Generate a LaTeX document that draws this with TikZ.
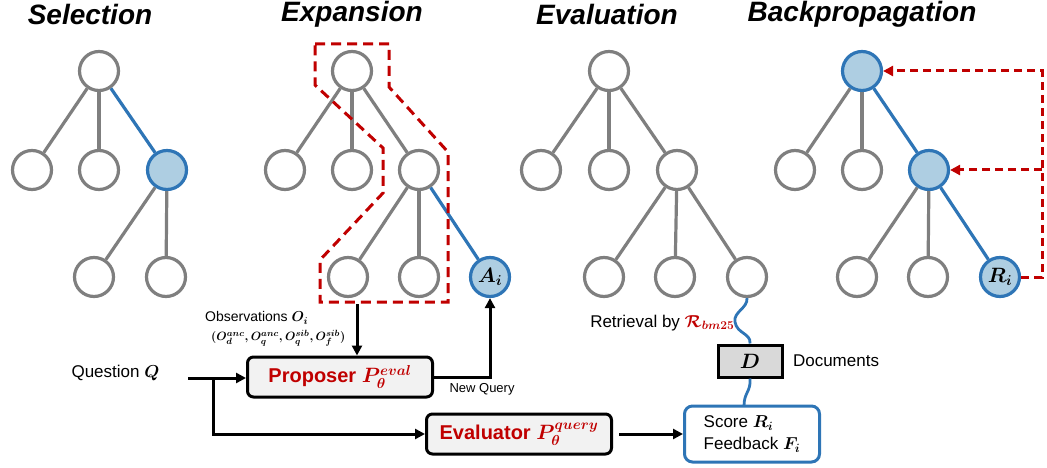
\documentclass[tikz,border=0pt]{standalone}
\usepackage{fontspec}
\setmainfont{Liberation Sans}
\usepackage{amsmath}
\usetikzlibrary{arrows.meta}
\usetikzlibrary{positioning}

\definecolor{treegray}{RGB}{127,127,127}
\definecolor{selblue}{RGB}{46,117,182}
\definecolor{sellight}{RGB}{174,206,226}
\definecolor{darkred}{RGB}{192,0,0}
\definecolor{boxgray}{RGB}{242,242,242}
\definecolor{docgray}{RGB}{217,217,217}

\newcommand{\bmath}[1]{\mbox{\boldmath$#1$}}

\tikzset{
  headline/.style={font=\fontsize{28}{33}\selectfont\bfseries\itshape},
  txt/.style={font=\fontsize{17}{20}\selectfont},
  tnode/.style={circle, draw=treegray, line width=3.2pt, fill=white, minimum size=39pt, inner sep=0pt},
  bnode/.style={tnode, draw=selblue, fill=sellight, font=\fontsize{21}{24}\selectfont},
  tedge/.style={treegray, line width=3.2pt},
  bedge/.style={selblue, line width=3.2pt},
  flow/.style={black, line width=3pt, -{Triangle[length=10pt,width=10pt]}},
  procbox/.style={draw=black, line width=3pt, rounded corners=6pt, fill=boxgray, text=darkred,
    minimum width=185pt, minimum height=40pt, font=\fontsize{20}{24}\selectfont\bfseries},
  obsline/.style={darkred, line width=3pt, dash pattern=on 10pt off 6pt},
  bkline/.style={darkred, line width=3pt, dash pattern=on 8pt off 5pt, -{Triangle[length=10pt,width=10pt]}}
}

\begin{document}
\begin{tikzpicture}[x=1pt,y=-1pt]
  \useasboundingbox (0,0) rectangle (1047,468);

  % titles
  \node[headline] (tsel) at (90,14) {Selection};
  \node[headline] (texp) at (352,14) {Expansion};
  \node[headline] (teva) at (607,14) {Evaluation};
  \node[headline] (tbck) at (862,14) {Backpropagation};

  % selection tree
  \node[tnode] (sroot) at (99,71) {};
  \node[tnode] (sc1) at (32,170) {};
  \node[tnode] (sc2) at (99,170) {};
  \node[bnode] (sc3) at (167,170) {};
  \node[tnode] (sg1) at (94,277) {};
  \node[tnode] (sg2) at (166,277) {};
  \draw[tedge] (sroot) -- (sc1);
  \draw[tedge] (sroot) -- (sc2);
  \draw[bedge] (sroot) -- (sc3);
  \draw[tedge] (sc3) -- (sg1);
  \draw[tedge] (sc3) -- (sg2);

  % expansion tree
  \node[tnode] (xroot) at (352,71) {};
  \node[tnode] (xc1) at (285,170) {};
  \node[tnode] (xc2) at (352,170) {};
  \node[tnode] (xc3) at (419,170) {};
  \node[tnode] (xg1) at (348,277) {};
  \node[tnode] (xg2) at (419,277) {};
  \node[bnode] (ai) at (490,277) {\bmath{A_i}};
  \draw[tedge] (xroot) -- (xc1);
  \draw[tedge] (xroot) -- (xc2);
  \draw[tedge] (xroot) -- (xc3);
  \draw[tedge] (xc3) -- (xg1);
  \draw[tedge] (xc3) -- (xg2);
  \draw[bedge] (xc3) -- (ai);
  \draw[obsline] (315,44) -- (389,44) -- (389,87) -- (448,152) -- (448,302) -- (320,302)
    -- (320,260) -- (383,193) -- (383,148) -- (315,85) -- cycle;

  % evaluation tree
  \node[tnode] (eroot) at (609,71) {};
  \node[tnode] (ec1) at (541,170) {};
  \node[tnode] (ec2) at (609,170) {};
  \node[tnode] (ec3) at (677,170) {};
  \node[tnode] (eg1) at (604,277) {};
  \node[tnode] (eg2) at (675,277) {};
  \node[tnode] (eg3) at (747,277) {};
  \draw[tedge] (eroot) -- (ec1);
  \draw[tedge] (eroot) -- (ec2);
  \draw[tedge] (eroot) -- (ec3);
  \draw[tedge] (ec3) -- (eg1);
  \draw[tedge] (ec3) -- (eg2);
  \draw[tedge] (ec3) -- (eg3);

  % backpropagation tree
  \node[bnode] (broot) at (862,71) {};
  \node[tnode] (bc1) at (795,170) {};
  \node[tnode] (bc2) at (862,170) {};
  \node[bnode] (bc3) at (929,170) {};
  \node[tnode] (bg1) at (857,277) {};
  \node[tnode] (bg2) at (928,277) {};
  \node[bnode] (ri) at (1000,277) {\bmath{R_i}};
  \draw[tedge] (broot) -- (bc1);
  \draw[tedge] (broot) -- (bc2);
  \draw[bedge] (broot) -- (bc3);
  \draw[tedge] (bc3) -- (bg1);
  \draw[tedge] (bc3) -- (bg2);
  \draw[bedge] (bc3) -- (ri);
  \coordinate (bk) at (1042,71);
  \draw[bkline] (ri.east) -| (bk) -- (broot.east);
  \draw[bkline] (bk |- bc3) -- (bc3.east);

  % boxes
  \node[procbox] (prop) at (340,377) {Proposer \bmath{P_\theta^{eval}}};
  \node[procbox] (eval) at (519,434) {Evaluator \bmath{P_\theta^{query}}};
  \node[draw=selblue, line width=3pt, rounded corners=8pt, fill=white, align=left,
    minimum width=135pt, minimum height=56pt, txt] (score) at (752,434)
    {Score \bmath{R_i}\\[2pt]Feedback \bmath{F_i}};
  \node[draw=black, line width=3pt, fill=docgray, minimum width=64pt, minimum height=32pt,
    font=\fontsize{21}{24}\selectfont] (dbox) at (750,361) {\bmath{D}};
  \node[txt, right=6pt of dbox] (docs) {Documents};

  % texts
  \node[txt, anchor=west] (q) at (68,373) {Question \bmath{Q}};
  \node[font=\fontsize{14}{16}\selectfont, anchor=west, inner sep=1pt] (obs1) at (204,318)
    {Observations \bmath{O_i}};
  \node[font=\fontsize{13}{15}\selectfont, anchor=west, inner sep=1pt] (obs2) at (210,338)
    {\bmath{(O_d^{anc},O_q^{anc},O_q^{sib},O_f^{sib})}};
  \node[font=\fontsize{13}{15}\selectfont, anchor=west] (newq) at (446,389) {New Query};
  \node[txt, anchor=east] (retr) at (738,323)
    {Retrieval by \textcolor{darkred}{\bmath{\mathcal{R}_{bm25}}}};

  % connectors
  \coordinate (qstart) at (188,378);
  \coordinate (qsplit) at (213,378);
  \coordinate (obsout) at (357,304);
  \draw[flow] (qstart) -- (prop.west |- qstart);
  \draw[flow] (qsplit) |- (eval.west);
  \draw[flow] (obsout) -- (prop.north -| obsout);
  \draw[flow] (prop.east) -| (ai.south);
  \draw[flow, shorten <=6pt] (eval.east) -- (score.west);
  \draw[selblue, line width=2.8pt] (eg3.south) .. controls (748,308) and (733,312) .. (735,322)
    .. controls (737,334) and (751,333) .. (dbox.north);
  \coordinate (sctop) at (744,406);
  \draw[selblue, line width=2.8pt] (dbox.south) .. controls (751,392) and (744,392) .. (sctop);
\end{tikzpicture}
\end{document}
